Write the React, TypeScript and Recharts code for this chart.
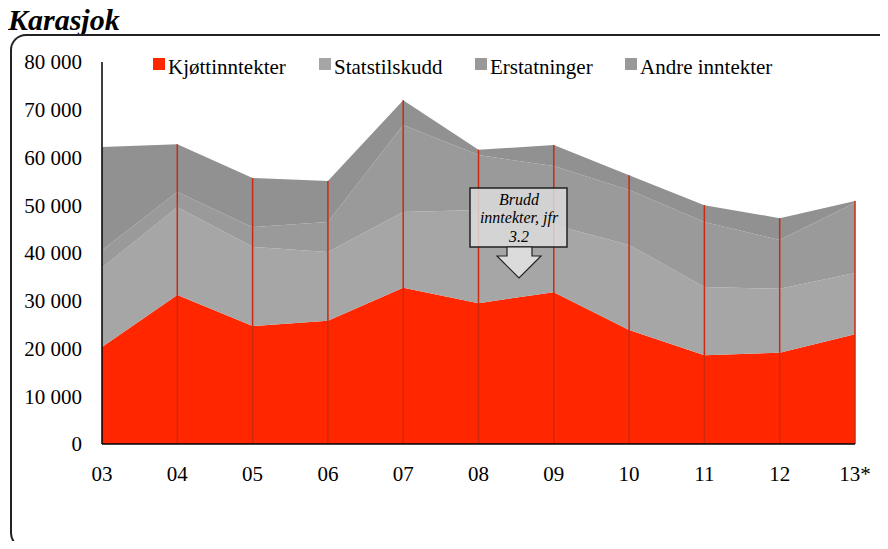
import { AreaChart, Area, XAxis, YAxis, ReferenceLine } from "recharts";

const years = ["03", "04", "05", "06", "07", "08", "09", "10", "11", "12", "13*"];
const kjott = [20300, 31200, 24700, 25800, 32700, 29500, 31800, 23900, 18600, 19100, 23000];
const stats = [16600, 18400, 16600, 14400, 15900, 19500, 14100, 17800, 14300, 13400, 12800];
const erst = [3700, 3200, 4100, 6300, 18200, 11500, 12300, 11500, 13600, 10200, 14700];
const andre = [21600, 10000, 10300, 8600, 5200, 1100, 4400, 3100, 3500, 4600, 400];
const yTicks = [0, 10000, 20000, 30000, 40000, 50000, 60000, 70000, 80000];

const series = [
  { key: "kjott", name: "Kjøttinntekter", fill: "#FF2600", swatch: "#FF2600" },
  { key: "stats", name: "Statstilskudd", fill: "#A6A6A6", swatch: "#A6A6A6" },
  { key: "erst", name: "Erstatninger", fill: "#9A9A9A", swatch: "#999999" },
  { key: "andre", name: "Andre inntekter", fill: "#919191", swatch: "#999999" },
];

const data = years.map((year, i) => ({
  year,
  kjott: kjott[i],
  stats: stats[i],
  erst: erst[i],
  andre: andre[i],
  total: kjott[i] + stats[i] + erst[i] + andre[i],
}));

const FONT = "'Liberation Serif', 'Times New Roman', serif";
const fmt = (v: number) => String(v).replace(/\B(?=(\d{3})+(?!\d))/g, " ");
const legendLeft = [145, 311, 467, 617];

export default function App() {
  return (
    <div
      style={{
        position: "relative",
        width: 880,
        height: 541,
        marginBottom: -8,
        fontFamily: FONT,
      }}
    >
      <div
        style={{
          position: "absolute",
          left: 0,
          top: -4,
          fontSize: 30,
          lineHeight: "32px",
          fontWeight: "bold",
          fontStyle: "italic",
          color: "#000",
        }}
      >
        Karasjok
      </div>
      <div
        style={{
          position: "absolute",
          left: 2,
          top: 26,
          width: 876,
          height: 511,
          borderTop: "2px solid #222",
          borderLeft: "2px solid #222",
          borderBottom: "2px solid #222",
          borderTopLeftRadius: 16,
          borderBottomLeftRadius: 16,
        }}
      />
      <div style={{ position: "absolute", left: 0, top: 0 }}>
        <AreaChart
          width={880}
          height={520}
          data={data}
          margin={{ top: 54, right: 33, left: 0, bottom: 54 }}
        >
          <XAxis
            dataKey="year"
            axisLine={{ stroke: "#000", strokeWidth: 1.5 }}
            tickLine={false}
            tickMargin={16}
            height={30}
            interval={0}
            tick={{ fill: "#000", fontSize: 21, fontFamily: FONT }}
          />
          <YAxis
            domain={[0, 80000]}
            ticks={yTicks}
            tickFormatter={fmt}
            width={94}
            axisLine={{ stroke: "#000", strokeWidth: 1.5 }}
            tickLine={false}
            tickMargin={14}
            tick={{ fill: "#000", fontSize: 21, fontFamily: FONT }}
          />
          {series.map((s) => (
            <Area
              key={s.key}
              type="linear"
              dataKey={s.key}
              name={s.name}
              stackId="1"
              fill={s.fill}
              fillOpacity={1}
              stroke="none"
              isAnimationActive={false}
            />
          ))}
          {data.slice(1).map((d) => (
            <ReferenceLine
              key={d.year}
              segment={[
                { x: d.year, y: 0 },
                { x: d.year, y: d.total },
              ]}
              stroke="#CC2A10"
              strokeWidth={1.5}
            />
          ))}
        </AreaChart>
      </div>
      {series.map((s, i) => (
        <div
          key={s.key}
          style={{
            position: "absolute",
            left: legendLeft[i],
            top: 47,
            display: "flex",
            alignItems: "center",
            fontSize: 21,
            lineHeight: "24px",
            color: "#000",
            whiteSpace: "nowrap",
          }}
        >
          <span
            style={{
              display: "inline-block",
              width: 12,
              height: 12,
              background: s.swatch,
              marginRight: 3,
              marginTop: -6,
            }}
          />
          {s.name}
        </div>
      ))}
      <svg
        width={880}
        height={541}
        style={{ position: "absolute", left: 0, top: 0, pointerEvents: "none" }}
      >
        <rect
          x={462}
          y={180}
          width={97}
          height={59}
          fill="rgba(220,220,220,0.85)"
          stroke="#222"
          strokeWidth={1.5}
        />
        <polygon
          points="499,239 524,239 524,248 533,248 511,270 489,248 499,248"
          fill="rgba(225,225,225,0.9)"
          stroke="#222"
          strokeWidth={1.2}
        />
        <g fontFamily={FONT} fontStyle="italic" fontSize={16} fill="#000" textAnchor="middle">
          <text x={511} y={197}>Brudd</text>
          <text x={511} y={215}>inntekter, jfr</text>
          <text x={511} y={234}>3.2</text>
        </g>
      </svg>
    </div>
  );
}
